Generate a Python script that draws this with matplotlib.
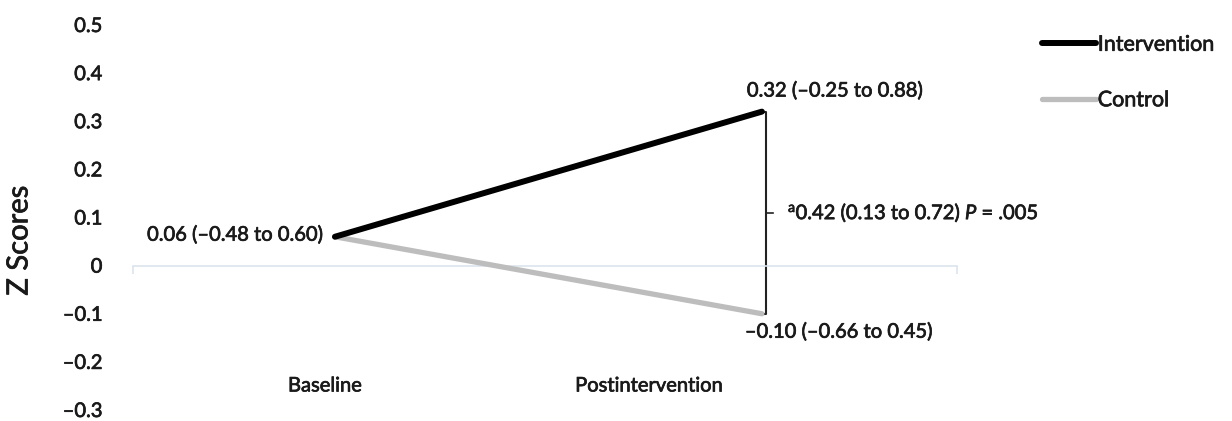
import numpy as np
import matplotlib.pyplot as plt
import matplotlib.patheffects as pe
from matplotlib.lines import Line2D

# Data
categories = ["Baseline", "Postintervention"]
intervention = [0.06, 0.32]
control = [0.06, -0.10]
pointLabels = ["0.06 (\u20130.48 to 0.60)", "0.32 (\u20130.25 to 0.88)", "\u20130.10 (\u20130.66 to 0.45)"]
diffLabel = r"$^{\mathrm{a}}$0.42 (0.13 to 0.72) $\mathit{P}$ = .005"
yTicks = [0.5, 0.4, 0.3, 0.2, 0.1, 0.0, -0.1, -0.2, -0.3]
yTickLabels = ["0.5", "0.4", "0.3", "0.2", "0.1", "0", "\u20130.1", "\u20130.2", "\u20130.3"]

plt.rcParams['font.family'] = ['Lato', 'DejaVu Sans']
plt.rcParams['mathtext.fontset'] = 'custom'
plt.rcParams['mathtext.rm'] = 'Lato'
plt.rcParams['mathtext.it'] = 'Lato:italic'
textColor = "#1a1a1a"
fs = 14.5
heavy = [pe.withStroke(linewidth=0.5, foreground=textColor)]

fig = plt.figure(figsize=(12.32, 4.21), dpi=100)
ax = fig.add_axes([133 / 1232, 11 / 421, 824 / 1232, 385 / 421])

x = np.arange(len(categories))
ax.plot(x, control, color="#bdbdbd", lw=3.8, solid_capstyle="round", zorder=3)
ax.plot(x, intervention, color="black", lw=4.3, solid_capstyle="round", zorder=4)

xMin, xMax = -0.473, 1.457
ax.set_xlim(xMin, xMax)
ax.set_ylim(-0.3, 0.5)

# zero axis line with end ticks
for s in ["top", "right", "left"]:
    ax.spines[s].set_visible(False)
ax.spines["bottom"].set_position(("data", 0))
ax.spines["bottom"].set_color("#dbe4ee")
ax.spines["bottom"].set_linewidth(1.2)
ax.set_xticks([xMin, xMax])
ax.set_xticklabels(["", ""])
ax.tick_params(axis="x", length=6, color="#dbe4ee", width=1.2, direction="out")

ax.set_yticks(yTicks)
ax.set_yticklabels(yTickLabels, fontsize=fs, color=textColor)
ax.tick_params(axis="y", length=0, pad=22)
for t in ax.get_yticklabels():
    t.set_path_effects(heavy)
ax.set_ylabel("Z Scores", fontsize=21, color=textColor, path_effects=heavy)
ax.yaxis.set_label_coords(-0.122, 0.44)

# category labels (placed low, as in the source)
catOffsets = [-10, -113]
for i, lab in enumerate(categories):
    ax.annotate(lab, xy=(x[i], -0.3), xytext=(catOffsets[i], 24), textcoords="offset pixels",
                ha="center", va="center", fontsize=fs, color=textColor, path_effects=heavy)

# point labels
ax.annotate(pointLabels[0], xy=(x[0], intervention[0]), xytext=(-12, 2), textcoords="offset pixels",
            ha="right", va="center", fontsize=fs, color=textColor, path_effects=heavy)
ax.annotate(pointLabels[1], xy=(x[1], intervention[1]), xytext=(-15, 21), textcoords="offset pixels",
            ha="left", va="center", fontsize=fs, color=textColor, path_effects=heavy)
ax.annotate(pointLabels[2], xy=(x[1], control[1]), xytext=(-17, -18), textcoords="offset pixels",
            ha="left", va="center", fontsize=fs, color=textColor, path_effects=heavy)

# difference bracket
bx = ax.transData.transform((x[1], 0))[0] + 4
inv = ax.transData.inverted()
bxData = inv.transform((bx, 0))[0]
hookData = inv.transform((bx - 5, 0))[0]
tickData = inv.transform((bx + 7, 0))[0]
mid = (intervention[1] + control[1]) / 2
ax.plot([hookData, bxData, bxData, hookData], [intervention[1], intervention[1], control[1], control[1]],
        color="#222222", lw=1.5, zorder=2)
ax.plot([bxData, tickData], [mid, mid], color="#222222", lw=1.2, zorder=2)
ax.annotate(diffLabel, xy=(bxData, mid), xytext=(22, 0), textcoords="offset pixels",
            ha="left", va="center", fontsize=fs, color=textColor, path_effects=heavy)

# legend
handles = [Line2D([], [], color="black", lw=4.3, solid_capstyle="round"),
           Line2D([], [], color="#bdbdbd", lw=3.8, solid_capstyle="round")]
leg = fig.legend(handles, ["Intervention", "Control"], loc="upper left",
                 bbox_to_anchor=(1031 / 1232, 1 - 24 / 421), frameon=False, fontsize=15.5,
                 handlelength=2.5, handletextpad=0.1, labelspacing=1.65, borderpad=0)
for t in leg.get_texts():
    t.set_color(textColor)
    t.set_path_effects(heavy)

fig.savefig("out.png", dpi=100)
